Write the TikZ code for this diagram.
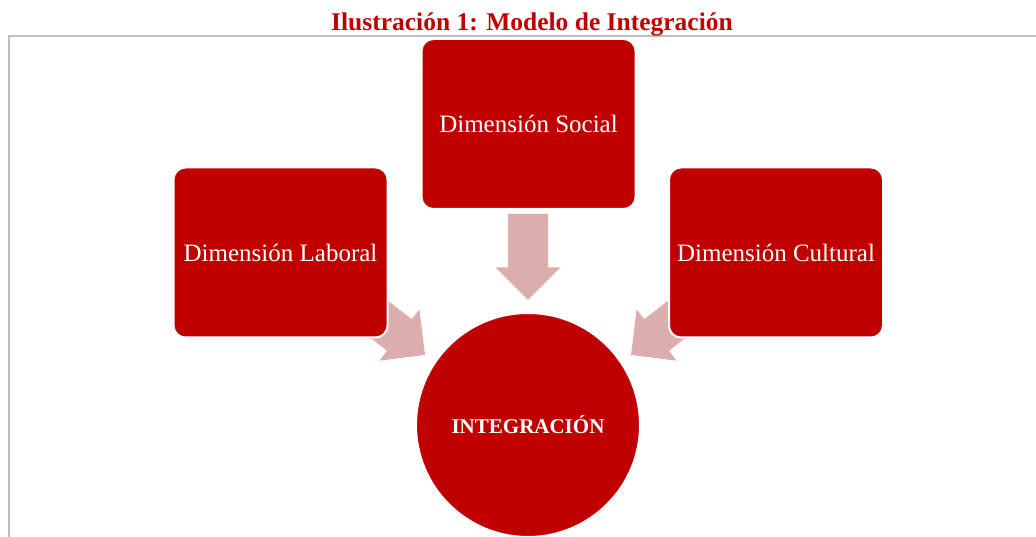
\documentclass[tikz,border=0pt]{standalone}
\usepackage{fontspec}
\setmainfont{Liberation Serif}
\usepackage{tikz}
\usetikzlibrary{positioning}
\usetikzlibrary{calc}
\definecolor{rojo}{RGB}{192,0,0}
\definecolor{rosa}{RGB}{221,172,172}
\definecolor{marco}{RGB}{191,191,191}
\tikzset{dimension/.style={rectangle, rounded corners=12pt, fill=rojo, draw=white, line width=2pt, minimum width=214pt, minimum height=170pt, text=white, font=\fontsize{25}{30}\selectfont}}
\tikzset{centro/.style={circle, fill=rojo, draw=white, line width=2pt, minimum size=224pt, text=white, font=\fontsize{21}{25}\selectfont\bfseries}}
\tikzset{flecha/.style={fill=rosa}}
\newcommand{\bloque}[2]{\fill[flecha, shift={(#1)}, rotate=#2] (0,0) -- (-32.5,32.5) -- (-32.5,20) -- (-86,20) -- (-86,-20) -- (-32.5,-20) -- (-32.5,-32.5) -- cycle;}

\begin{document}
\begin{tikzpicture}[x=1pt,y=1pt]
\useasboundingbox (0,0) rectangle (1036,537);
\fill[white] (0,0) rectangle (1036,537);
\draw[marco, line width=2pt] (9,-5) -- (9,501) -- (1045,501);
\node[anchor=base, text=rojo, font=\fontsize{25.5}{30}\selectfont\bfseries] (titulo) at (532,506) {Ilustración 1: Modelo de Integración};
\node[centro] (integ) at (528,112) {INTEGRACIÓN};
\coordinate (puntaS) at ($(integ.center)+(0,125)$);
\coordinate (puntaL) at ($(integ.center)+(-103,70)$);
\coordinate (puntaC) at ($(integ.center)+(103,70)$);
\bloque{puntaS}{-90}
\bloque{puntaL}{-38}
\bloque{puntaC}{218}
\node[dimension] (social) at (528.5,413) {Dimensión Social};
\node[dimension] (laboral) at (280.5,284.5) {Dimensión Laboral};
\node[dimension] (cultural) at (776,284.5) {Dimensión Cultural};
\end{tikzpicture}
\end{document}
